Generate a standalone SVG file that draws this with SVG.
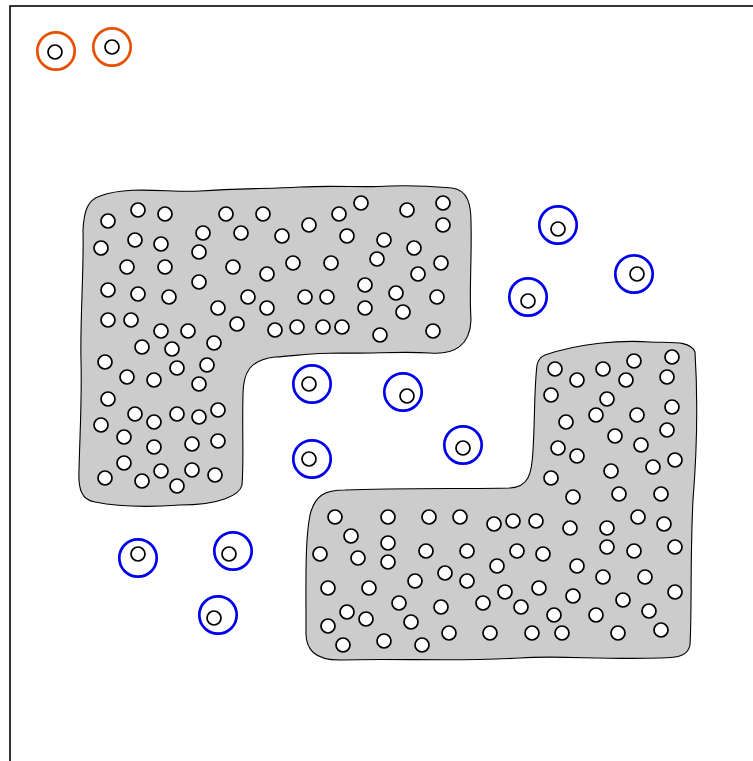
<svg xmlns="http://www.w3.org/2000/svg" width="753" height="761" viewBox="0 0 753 761">
<style>
.frame{fill:none;stroke:#000;stroke-width:1.6}
.blob{fill:#cccccc;stroke:#000;stroke-width:1.1}
.p{fill:#fff;stroke:#000;stroke-width:1.7}
.blue{fill:none;stroke:#0000ee;stroke-width:2.7}
.orange{fill:none;stroke:#e65100;stroke-width:2.7}
</style>
<rect width="753" height="761" fill="#fff"/>
<rect class="frame" x="10" y="6" width="780" height="780"/>
<g id="region-upper-left">
<path class="blob" d="M100,196 C130,185 170,193 200,191 C240,188 270,189 300,187 C340,185 360,188 390,186 C420,185 440,187 452,188 C468,190 471,205 471,222 C472,260 469,290 471,320 C470,345 455,355 430,353 C400,351 370,354 340,353 C310,353 295,356 275,357 C250,360 243,372 243,395 C242,430 244,460 242,485 C240,495 220,505 180,505 C140,508 110,505 95,502 C82,500 78,490 79,470 C80,430 82,400 81,360 C80,320 84,270 83,230 C84,210 88,200 100,196 Z"/>
<g id="pts-ul">
<circle class="p" cx="108" cy="221" r="7"/><circle class="p" cx="138" cy="210" r="7"/><circle class="p" cx="165" cy="214" r="7"/><circle class="p" cx="226" cy="214" r="7"/><circle class="p" cx="263" cy="214" r="7"/><circle class="p" cx="309" cy="225" r="7"/><circle class="p" cx="339" cy="214" r="7"/><circle class="p" cx="361" cy="203" r="7"/><circle class="p" cx="407" cy="210" r="7"/><circle class="p" cx="443" cy="203" r="7"/><circle class="p" cx="443" cy="225" r="7"/>
<circle class="p" cx="101" cy="248" r="7"/><circle class="p" cx="135" cy="240" r="7"/><circle class="p" cx="161" cy="244" r="7"/><circle class="p" cx="203" cy="233" r="7"/><circle class="p" cx="241" cy="233" r="7"/><circle class="p" cx="282" cy="236" r="7"/><circle class="p" cx="347" cy="236" r="7"/><circle class="p" cx="384" cy="240" r="7"/><circle class="p" cx="414" cy="248" r="7"/>
<circle class="p" cx="127" cy="267" r="7"/><circle class="p" cx="165" cy="267" r="7"/><circle class="p" cx="199" cy="252" r="7"/><circle class="p" cx="233" cy="267" r="7"/><circle class="p" cx="267" cy="274" r="7"/><circle class="p" cx="293" cy="263" r="7"/><circle class="p" cx="331" cy="263" r="7"/><circle class="p" cx="377" cy="259" r="7"/><circle class="p" cx="441" cy="263" r="7"/><circle class="p" cx="418" cy="274" r="7"/>
<circle class="p" cx="108" cy="290" r="7"/><circle class="p" cx="138" cy="294" r="7"/><circle class="p" cx="169" cy="297" r="7"/><circle class="p" cx="199" cy="282" r="7"/><circle class="p" cx="248" cy="297" r="7"/><circle class="p" cx="305" cy="297" r="7"/><circle class="p" cx="327" cy="297" r="7"/><circle class="p" cx="365" cy="285" r="7"/><circle class="p" cx="396" cy="293" r="7"/><circle class="p" cx="437" cy="297" r="7"/>
<circle class="p" cx="108" cy="320" r="7"/><circle class="p" cx="131" cy="320" r="7"/><circle class="p" cx="161" cy="331" r="7"/><circle class="p" cx="188" cy="331" r="7"/><circle class="p" cx="218" cy="308" r="7"/><circle class="p" cx="237" cy="324" r="7"/><circle class="p" cx="267" cy="308" r="7"/><circle class="p" cx="275" cy="330" r="7"/><circle class="p" cx="297" cy="327" r="7"/><circle class="p" cx="323" cy="327" r="7"/><circle class="p" cx="342" cy="327" r="7"/><circle class="p" cx="365" cy="308" r="7"/><circle class="p" cx="403" cy="312" r="7"/><circle class="p" cx="380" cy="335" r="7"/><circle class="p" cx="433" cy="331" r="7"/>
<circle class="p" cx="142" cy="347" r="7"/><circle class="p" cx="172" cy="349" r="7"/><circle class="p" cx="214" cy="343" r="7"/>
<circle class="p" cx="105" cy="362" r="7"/><circle class="p" cx="177" cy="368" r="7"/><circle class="p" cx="207" cy="365" r="7"/><circle class="p" cx="127" cy="377" r="7"/><circle class="p" cx="154" cy="380" r="7"/><circle class="p" cx="199" cy="384" r="7"/>
<circle class="p" cx="108" cy="399" r="7"/><circle class="p" cx="135" cy="414" r="7"/><circle class="p" cx="154" cy="422" r="7"/><circle class="p" cx="177" cy="414" r="7"/><circle class="p" cx="199" cy="417" r="7"/><circle class="p" cx="218" cy="410" r="7"/>
<circle class="p" cx="101" cy="425" r="7"/><circle class="p" cx="124" cy="437" r="7"/><circle class="p" cx="154" cy="447" r="7"/><circle class="p" cx="192" cy="444" r="7"/><circle class="p" cx="218" cy="441" r="7"/>
<circle class="p" cx="124" cy="463" r="7"/><circle class="p" cx="105" cy="478" r="7"/><circle class="p" cx="142" cy="481" r="7"/><circle class="p" cx="161" cy="471" r="7"/><circle class="p" cx="192" cy="470" r="7"/><circle class="p" cx="177" cy="486" r="7"/><circle class="p" cx="215" cy="475" r="7"/>
</g>
</g>
<g id="region-lower-right">
<path class="blob" d="M545,355 C580,343 620,340 650,342 C670,343 690,340 695,352 C698,400 697,450 693,500 C690,560 692,610 690,645 C688,655 680,658 660,658 C600,660 560,655 520,658 C450,662 400,658 340,660 C315,660 305,650 306,630 C306,580 305,540 310,515 C315,495 325,490 345,490 C400,488 470,489 510,488 C528,487 532,475 533,450 C535,420 534,390 537,365 C538,360 540,357 545,355 Z"/>
<g id="pts-lr">
<circle class="p" cx="555" cy="369" r="7"/><circle class="p" cx="577" cy="380" r="7"/><circle class="p" cx="603" cy="369" r="7"/><circle class="p" cx="634" cy="361" r="7"/><circle class="p" cx="672" cy="357" r="7"/><circle class="p" cx="626" cy="380" r="7"/><circle class="p" cx="667" cy="377" r="7"/>
<circle class="p" cx="551" cy="395" r="7"/><circle class="p" cx="607" cy="399" r="7"/><circle class="p" cx="596" cy="415" r="7"/><circle class="p" cx="637" cy="415" r="7"/><circle class="p" cx="672" cy="407" r="7"/><circle class="p" cx="566" cy="422" r="7"/><circle class="p" cx="615" cy="436" r="7"/><circle class="p" cx="667" cy="430" r="7"/><circle class="p" cx="641" cy="445" r="7"/>
<circle class="p" cx="558" cy="448" r="7"/><circle class="p" cx="577" cy="456" r="7"/><circle class="p" cx="675" cy="460" r="7"/><circle class="p" cx="653" cy="467" r="7"/><circle class="p" cx="611" cy="471" r="7"/><circle class="p" cx="551" cy="478" r="7"/><circle class="p" cx="573" cy="497" r="7"/><circle class="p" cx="619" cy="494" r="7"/><circle class="p" cx="661" cy="494" r="7"/>
<circle class="p" cx="335" cy="517" r="7"/><circle class="p" cx="388" cy="517" r="7"/><circle class="p" cx="429" cy="517" r="7"/><circle class="p" cx="460" cy="517" r="7"/><circle class="p" cx="494" cy="524" r="7"/><circle class="p" cx="513" cy="521" r="7"/><circle class="p" cx="536" cy="521" r="7"/><circle class="p" cx="570" cy="528" r="7"/><circle class="p" cx="607" cy="528" r="7"/><circle class="p" cx="638" cy="517" r="7"/><circle class="p" cx="664" cy="524" r="7"/>
<circle class="p" cx="351" cy="536" r="7"/><circle class="p" cx="388" cy="543" r="7"/><circle class="p" cx="320" cy="554" r="7"/><circle class="p" cx="358" cy="558" r="7"/><circle class="p" cx="388" cy="562" r="7"/><circle class="p" cx="426" cy="551" r="7"/><circle class="p" cx="467" cy="551" r="7"/><circle class="p" cx="517" cy="551" r="7"/><circle class="p" cx="543" cy="554" r="7"/><circle class="p" cx="607" cy="547" r="7"/><circle class="p" cx="634" cy="551" r="7"/><circle class="p" cx="675" cy="547" r="7"/>
<circle class="p" cx="497" cy="566" r="7"/><circle class="p" cx="577" cy="566" r="7"/><circle class="p" cx="445" cy="573" r="7"/><circle class="p" cx="415" cy="581" r="7"/><circle class="p" cx="467" cy="581" r="7"/><circle class="p" cx="603" cy="577" r="7"/><circle class="p" cx="645" cy="577" r="7"/>
<circle class="p" cx="328" cy="588" r="7"/><circle class="p" cx="369" cy="588" r="7"/><circle class="p" cx="505" cy="592" r="7"/><circle class="p" cx="539" cy="588" r="7"/><circle class="p" cx="573" cy="596" r="7"/><circle class="p" cx="623" cy="600" r="7"/><circle class="p" cx="675" cy="592" r="7"/>
<circle class="p" cx="399" cy="603" r="7"/><circle class="p" cx="441" cy="607" r="7"/><circle class="p" cx="483" cy="603" r="7"/><circle class="p" cx="521" cy="607" r="7"/><circle class="p" cx="554" cy="615" r="7"/><circle class="p" cx="596" cy="615" r="7"/><circle class="p" cx="649" cy="611" r="7"/>
<circle class="p" cx="347" cy="612" r="7"/><circle class="p" cx="366" cy="619" r="7"/><circle class="p" cx="411" cy="622" r="7"/><circle class="p" cx="328" cy="626" r="7"/><circle class="p" cx="449" cy="633" r="7"/><circle class="p" cx="490" cy="633" r="7"/><circle class="p" cx="532" cy="633" r="7"/><circle class="p" cx="562" cy="633" r="7"/><circle class="p" cx="618" cy="633" r="7"/><circle class="p" cx="661" cy="630" r="7"/>
<circle class="p" cx="343" cy="645" r="7"/><circle class="p" cx="384" cy="641" r="7"/><circle class="p" cx="422" cy="645" r="7"/>
</g>
</g>
<g id="ringed-orange">
<g id="o1"><circle class="orange" cx="56" cy="51" r="18.7"/><circle class="p" cx="55" cy="52" r="7"/></g>
<g id="o2"><circle class="orange" cx="112" cy="47" r="18.7"/><circle class="p" cx="112" cy="47" r="7"/></g>
</g>
<g id="ringed-blue">
<g id="b1"><circle class="blue" cx="312" cy="384" r="18.7"/><circle class="p" cx="309" cy="384" r="7"/></g>
<g id="b2"><circle class="blue" cx="403" cy="392" r="18.7"/><circle class="p" cx="407" cy="396" r="7"/></g>
<g id="b3"><circle class="blue" cx="312" cy="459" r="18.7"/><circle class="p" cx="309" cy="459" r="7"/></g>
<g id="b4"><circle class="blue" cx="463" cy="445" r="18.7"/><circle class="p" cx="463" cy="448" r="7"/></g>
<g id="b5"><circle class="blue" cx="138" cy="558" r="18.7"/><circle class="p" cx="138" cy="554" r="7"/></g>
<g id="b6"><circle class="blue" cx="233" cy="551" r="18.7"/><circle class="p" cx="229" cy="554" r="7"/></g>
<g id="b7"><circle class="blue" cx="218" cy="615" r="18.7"/><circle class="p" cx="214" cy="618" r="7"/></g>
<g id="b8"><circle class="blue" cx="558" cy="225" r="18.7"/><circle class="p" cx="558" cy="229" r="7"/></g>
<g id="b9"><circle class="blue" cx="634" cy="274" r="18.7"/><circle class="p" cx="637" cy="274" r="7"/></g>
<g id="b10"><circle class="blue" cx="528" cy="297" r="18.7"/><circle class="p" cx="528" cy="301" r="7"/></g>
</g>
</svg>
